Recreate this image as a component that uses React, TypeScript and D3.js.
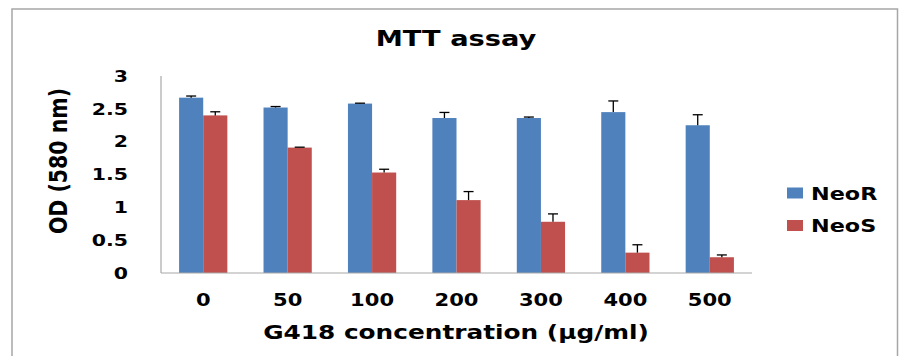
import React from 'react';
import * as d3 from 'd3';

const categories = ['0', '50', '100', '200', '300', '400', '500'];
const seriesNames = ['NeoR', 'NeoS'];
const neoR = [2.67, 2.52, 2.58, 2.36, 2.36, 2.45, 2.25];
const neoS = [2.4, 1.91, 1.53, 1.11, 0.78, 0.31, 0.24];
const neoRErr = [0.025, 0.015, 0.006, 0.085, 0.015, 0.17, 0.16];
const neoSErr = [0.055, 0.006, 0.05, 0.13, 0.12, 0.12, 0.035];
const yTicks = [0, 0.5, 1, 1.5, 2, 2.5, 3];
const colors = ['#4f81bd', '#c0504d'];

const W = 899;
const H = 356;
const FONT = '"DejaVu Sans", Verdana, sans-serif';
const SX = 1.24; // the reference text is stretched horizontally

const App = () => {
  const x = d3.scaleBand<string>().domain(categories).range([161, 752]).padding(0);
  const bw = x.bandwidth() / 3.5; // excel gap width 150%
  const y = d3.scaleLinear().domain([0, 3]).range([273, 76]);

  const values = [neoR, neoS];
  const errs = [neoRErr, neoSErr];

  const stretched = (tx: number, ty: number, extra = '') =>
    `translate(${tx},${ty}) scale(${SX},1)${extra}`;

  return (
    <svg width={W} height={H} style={{ position: 'absolute', left: 0, top: 0, background: '#fff' }}
      fontFamily={FONT} fontWeight="bold">
      <rect x={12} y={9} width={885.5} height={H + 20} fill="#fff" stroke="#a6a6a6" strokeWidth={1.5} />

      <text transform={stretched(456, 46)} textAnchor="middle" fontSize={22} fill="#000">MTT assay</text>

      {/* y axis */}
      <line x1={161} x2={161} y1={y(3)} y2={y(0)} stroke="#a8a8a8" strokeWidth={1.2} />
      {yTicks.map(t => (
        <text key={t} transform={stretched(128, y(t))} textAnchor="end" dominantBaseline="central"
          fontSize={16.5} fill="#000">{String(t)}</text>
      ))}
      <text transform={stretched(58, 161, ' rotate(-90)')} textAnchor="middle" dominantBaseline="central"
        fontSize={20.5} fill="#000">OD (580 nm)</text>

      {/* bars */}
      {categories.map((c, i) => {
        const cx = (x(c) as number) + x.bandwidth() / 2;
        return (
          <g key={c}>
            {values.map((vals, s) => {
              const bx = cx - bw + s * bw;
              const top = y(vals[i]);
              const et = y(vals[i] + errs[s][i]);
              const mx = bx + bw / 2;
              return (
                <g key={s}>
                  <rect x={bx} y={top} width={bw} height={y(0) - top} fill={colors[s]} />
                  <line x1={mx} x2={mx} y1={top} y2={et} stroke="#000" strokeWidth={1.3} />
                  <line x1={mx - 5} x2={mx + 5} y1={et} y2={et} stroke="#000" strokeWidth={1.3} />
                </g>
              );
            })}
            <text transform={stretched(cx, 306)} textAnchor="middle" fontSize={17} fill="#000">{c}</text>
          </g>
        );
      })}

      {/* x axis */}
      <line x1={161} x2={752} y1={y(0)} y2={y(0)} stroke="#a8a8a8" strokeWidth={1.2} />
      <text transform={stretched(456, 339)} textAnchor="middle" fontSize={20} fill="#000">G418 concentration (µg/ml)</text>

      {/* legend */}
      {seriesNames.map((n, s) => (
        <g key={n}>
          <rect x={787} y={187.5 + s * 32.5} width={16} height={11} fill={colors[s]} />
          <text transform={stretched(811, 200 + s * 32)} fontSize={18} fill="#000">{n}</text>
        </g>
      ))}
    </svg>
  );
};

export default App;
